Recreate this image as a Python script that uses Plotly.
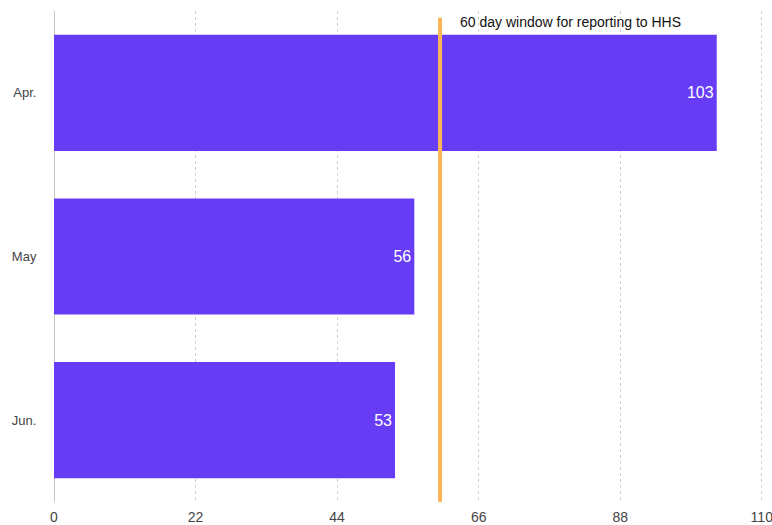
import plotly.graph_objects as go

months = ["Apr.", "May", "Jun."]
days = [103, 56, 53]
tick_vals = [0, 22, 44, 66, 88, 110]
threshold = 60
threshold_label = "60 day window for reporting to HHS"

fig = go.Figure()
fig.add_trace(go.Bar(
    y=months, x=days, orientation="h",
    marker=dict(color="#663DF5", line=dict(width=0)),
    text=[str(v) for v in days], textposition="inside", insidetextanchor="end",
    textfont=dict(color="white", size=16, family="Liberation Sans, Arial"),
    width=0.71, hoverinfo="skip",
))

fig.add_shape(type="line", xref="x", yref="paper", x0=threshold, x1=threshold,
              y0=0, y1=0.986, line=dict(color="#FFB55A", width=4))
fig.add_annotation(xref="x", yref="paper", x=threshold, y=0.978, xanchor="left",
                   yanchor="middle", xshift=18, text=threshold_label, showarrow=False,
                   font=dict(color="#111", size=14, family="Liberation Sans, Arial"))

fig.update_layout(
    width=772, height=525,
    margin=dict(l=54, r=7, t=11, b=23),
    plot_bgcolor="white", paper_bgcolor="white",
    showlegend=False,
    font=dict(family="Liberation Sans, Arial", size=13, color="#444"),
    xaxis=dict(range=[0, 110.5], tickvals=tick_vals, showgrid=True, gridcolor="#d0d0d0",
               griddash="dot", gridwidth=1, zeroline=True, zerolinecolor="#c8c8c8",
               zerolinewidth=1, ticks="outside", ticklen=2, tickcolor="rgba(0,0,0,0)",
               tickfont=dict(size=14, color="#444"), ticklabeloverflow="allow",
               automargin=False, fixedrange=True),
    yaxis=dict(categoryorder="array", categoryarray=months,
               showgrid=False, ticks="outside", ticklen=14, tickcolor="rgba(0,0,0,0)",
               tickfont=dict(size=13, color="#444"), automargin=False,
               range=[2.5, -0.5]),
)

fig.write_html("out.html")
